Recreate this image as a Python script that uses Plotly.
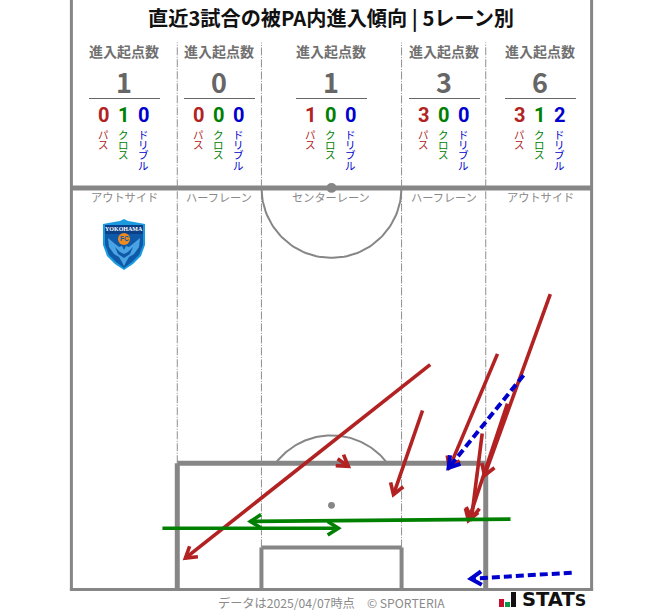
import numpy as np
import plotly.graph_objects as go

W, H = 663, 611
SCALE = 7.65  # px per metre
GOAL_PX = 589.5
CX_PX = 331.5
FONT = "Noto Sans CJK JP"
LINE = "#868686"

TITLE = "直近3試合の被PA内進入傾向 | 5レーン別"
lane_names = ["アウトサイド", "ハーフレーン", "センターレーン", "ハーフレーン", "アウトサイド"]
lane_centers_px = [124.5, 219.5, 331.5, 444.5, 540.5]
total_counts = [1, 0, 1, 3, 6]
pass_counts = [0, 0, 1, 3, 3]
cross_counts = [1, 0, 0, 0, 1]
dribble_counts = [0, 0, 0, 0, 2]
kinds = ["パス", "クロス", "ドリブル"]
RED, GREEN, BLUE = "#b22222", "#008000", "#0000cd"
kind_colors = [RED, GREEN, BLUE]

# arrows in pitch metres: x from the centre, y from the goal line
pass_x0 = [12.9, 11.9, 0.8, 19.7, 23.0, 28.6, 21.7]
pass_y0 = [29.4, 23.4, 17.1, 20.4, 24.3, 38.6, 30.8]
pass_x1 = [-19.1, 8.1, 2.2, 18.3, 17.9, 20.0, 15.4]
pass_y1 = [4.1, 12.4, 16.1, 9.3, 9.0, 14.9, 15.9]
cross_x0 = [23.4, -22.1]
cross_y0 = [9.2, 8.0]
cross_x1 = [-10.6, 0.9]
cross_y1 = [8.9, 8.0]
dribble_x0 = [25.1, 31.4]
dribble_y0 = [28.0, 2.2]
dribble_x1 = [15.3, 18.2]
dribble_y1 = [15.9, 1.4]


def fx(px):
    return px / W


def fy(py):
    return 1 - py / H


fig = go.Figure()
shapes, ann = [], []


def text(x, y, s, size, color, bold=False, family=FONT, yanchor="middle"):
    ann.append(dict(x=fx(x), y=fy(y - 0.8), xref="paper", yref="paper", text=f"<b>{s}</b>" if bold else s,
                    showarrow=False, xanchor="center", yanchor=yanchor,
                    font=dict(family=family, size=size, color=color)))


def seg(x0, y0, x1, y1, width, color=LINE, dash=None):
    shapes.append(dict(type="line", x0=x0, y0=y0, x1=x1, y1=y1, xref="x", yref="y", layer="below",
                       line=dict(color=color, width=width, dash=dash)))


def curve(cx, cy, r, a0, a1):
    a = np.radians(np.linspace(a0, a1, 80))
    fig.add_trace(go.Scatter(x=cx + r * np.cos(a), y=cy + r * np.sin(a), mode="lines",
                             line=dict(color=LINE, width=2), hoverinfo="skip", showlegend=False))


def arrows(xs0, ys0, xs1, ys1, color, dash=None, width=3.6):
    head = 1.65
    for x0, y0, x1, y1 in zip(xs0, ys0, xs1, ys1):
        t = np.arctan2(y1 - y0, x1 - x0)
        hx = [x1 + head * np.cos(t + s) for s in (2.58, -2.58)]
        hy = [y1 + head * np.sin(t + s) for s in (2.58, -2.58)]
        fig.add_trace(go.Scatter(x=[x0, x1], y=[y0, y1], mode="lines", hoverinfo="skip", showlegend=False,
                                 line=dict(color=color, width=width, dash=dash)))
        fig.add_trace(go.Scatter(x=[hx[0], x1, hx[1]], y=[hy[0], y1, hy[1]], mode="lines", hoverinfo="skip",
                                 showlegend=False, line=dict(color=color, width=width)))


# pitch
TOP = 77.2
HW, PA_W, GA_W = 34, 20.16, 9.16
PA_D, GA_D, SPOT, HALF = 16.5, 5.5, 11, 52.5
seg(-HW, 0, -HW, TOP, 3)
seg(HW, 0, HW, TOP, 3)
seg(-HW - 0.2, 0, HW + 0.2, 0, 3)
seg(-HW, HALF, HW, HALF, 5)
seg(-PA_W, PA_D, PA_W, PA_D, 5)
seg(-PA_W, 0, -PA_W, PA_D, 5)
seg(PA_W, 0, PA_W, PA_D, 5)
seg(-GA_W, GA_D, GA_W, GA_D, 4)
seg(-GA_W, 0, -GA_W, GA_D, 4)
seg(GA_W, 0, GA_W, GA_D, 4)
for x, bottom in [(-PA_W, PA_D), (-GA_W, GA_D), (GA_W, GA_D), (PA_W, PA_D)]:
    seg(x, bottom, x, 71.5, 1, "#8f8f8f", "8px,1.5px,1px,1.5px")
for cy, r in [(HALF, 0.65), (SPOT, 0.45)]:
    shapes.append(dict(type="circle", x0=-r, x1=r, y0=cy - r, y1=cy + r, xref="x", yref="y", layer="below",
                       fillcolor=LINE, line=dict(width=0)))
curve(0, HALF, 9.15, 180, 360)
curve(0, SPOT, 9.15, 36.9, 143.1)

arrows(pass_x0, pass_y0, pass_x1, pass_y1, RED)
arrows(cross_x0, cross_y0, cross_x1, cross_y1, GREEN)
arrows(dribble_x0, dribble_y0, dribble_x1, dribble_y1, BLUE, "8px,4px", 4)

# header
text(331, 18, TITLE, 20.2, "#111111", True)
for i, c in enumerate(lane_centers_px):
    text(c - 0.5, 52, "進入起点数", 14, "#707070", True)
    text(c - 0.5, 82, str(total_counts[i]), 27, "#666666", True)
    shapes.append(dict(type="line", x0=fx(c - 35.5), x1=fx(c + 35.5), y0=fy(98.5), y1=fy(98.5),
                       xref="paper", yref="paper", line=dict(color="#666666", width=1)))
    text(c - 0.5, 198, lane_names[i], 11.2, "#888888")
    vals = [pass_counts[i], cross_counts[i], dribble_counts[i]]
    for j, kind in enumerate(kinds):
        x = c - 21 + 20 * j
        text(x, 116, str(vals[j]), 20, kind_colors[j], True, "Roboto")
        # stacked upright: line pitch follows the small base size, glyphs use the larger span size
        stacked = "<br>".join(f"<span style='font-size:10.5px'>{ch}</span>" for ch in kind)
        text(x, 125.5, stacked, 7.85, kind_colors[j], yanchor="top")

# footer
text(331.5, 603.6, "データは2025/04/07時点　© SPORTERIA", 12.2, "#8a8a8a")
for x0, x1, y0, col in [(499, 504, 599, "#c8102e"), (505, 510, 602, "#0a9a4a"), (511, 516, 592, "#111111")]:
    shapes.append(dict(type="rect", x0=fx(x0), x1=fx(x1), y0=fy(607), y1=fy(y0), xref="paper", yref="paper",
                       fillcolor=col, line=dict(width=0)))
text(554, 600.5, "STAT<span style='font-size:16px'>S</span>", 19.5, "#111111", True, "DejaVu Sans")


# crest
def poly(points, fill):
    d = "M" + " L".join(f"{fx(x):.5f},{fy(y):.5f}" for x, y in points) + " Z"
    shapes.append(dict(type="path", path=d, xref="paper", yref="paper", fillcolor=fill, line=dict(width=0)))


poly([(103, 224), (114, 222), (120, 221), (124, 219), (128, 221), (134, 222), (145, 224), (145, 245), (141, 256),
      (133, 264), (124, 270), (115, 264), (107, 256), (103, 245)], "#1a9be0")
poly([(105, 226), (143, 226), (143, 245), (139, 255), (132, 262), (124, 268), (116, 262), (109, 255), (105, 245)],
     "#0e5aa8")
poly([(105, 225), (143, 225), (143, 234), (105, 234)], "#0b3f88")
poly([(108, 238), (114, 243), (119, 247), (122, 246), (124, 250), (126, 246), (129, 247), (134, 243), (140, 238),
      (139, 247), (134, 254), (129, 257), (126, 262), (124, 266), (122, 262), (119, 257), (114, 254), (109, 247)],
     "#4aa3e2")
poly([(115, 247), (120, 252), (124, 254), (128, 252), (133, 247), (130, 254), (124, 258), (118, 254)], "#0e5aa8")
shapes.append(dict(type="circle", x0=fx(118), x1=fx(130), y0=fy(245), y1=fy(233), xref="paper", yref="paper",
                   fillcolor="#f08a1d", line=dict(width=0)))
text(124, 230, "YOKOHAMA", 6, "#ffffff", True, "Liberation Serif")
text(124, 239.5, "FC", 6.5, "#0e5aa8", True, "Liberation Sans")

fig.update_layout(
    width=W, height=H, margin=dict(l=0, r=0, t=0, b=0), autosize=False,
    paper_bgcolor="white", plot_bgcolor="white", showlegend=False,
    xaxis=dict(range=[-CX_PX / SCALE, (W - CX_PX) / SCALE], visible=False, fixedrange=True),
    yaxis=dict(range=[(GOAL_PX - H) / SCALE, GOAL_PX / SCALE], visible=False, fixedrange=True),
    shapes=shapes, annotations=ann,
)
fig.write_html("out.html", config={"displayModeBar": False},
               post_script="document.body.style.margin='0';")
